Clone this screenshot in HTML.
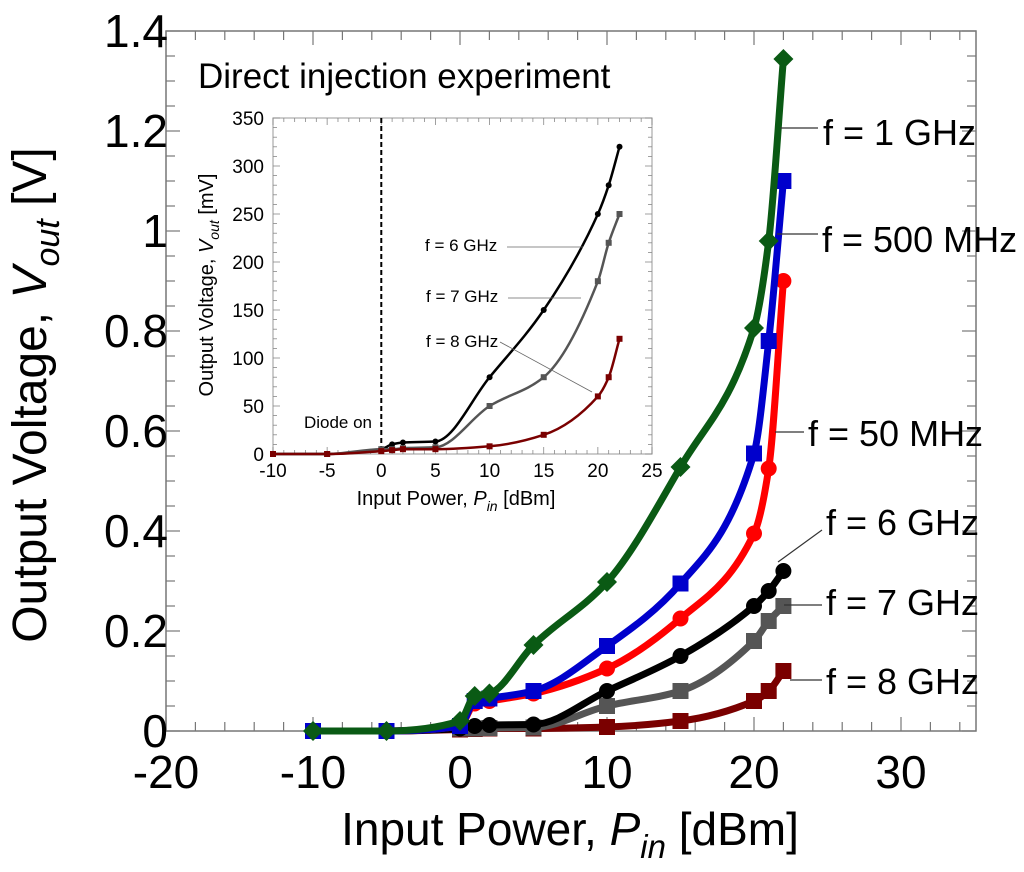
<!DOCTYPE html>
<html><head><meta charset="utf-8"><style>
body{margin:0;background:#fff;}
svg{display:block;font-family:"Liberation Sans",Arial,sans-serif;}
</style></head><body>
<svg id="chart" width="1024" height="872" viewBox="0 0 1024 872" xmlns="http://www.w3.org/2000/svg"></svg>
<script>
const xPts = [-10,-5,0,1,2,5,10,15,20,21,22];
const v1GHz = [0,0,0.02,0.07,0.075,0.172,0.298,0.528,0.806,0.98,1.344];
const v500MHz = [0,0,0.01,0.06,0.065,0.08,0.17,0.295,0.555,0.78,1.1];
const v50MHz = [0,0,0.01,0.055,0.06,0.075,0.125,0.225,0.395,0.525,0.9];
const mv6GHz = [0,0,5,10,12,13,80,150,250,280,320];
const mv7GHz = [0,0,5,5,6,7,50,80,180,220,250];
const mv8GHz = [0,0,3,4,5,5,8,20,60,80,120];
const xTicks = [-20,-10,0,10,20,30];
const yTicks = [0,0.2,0.4,0.6,0.8,1,1.2,1.4];
const insetXTicks = [-10,-5,0,5,10,15,20,25];
const insetYTicks = [0,50,100,150,200,250,300,350];

const svg=document.getElementById('chart');
const NS='http://www.w3.org/2000/svg';
function mk(tag,attrs,parent){const e=document.createElementNS(NS,tag);for(const k in attrs)e.setAttribute(k,attrs[k]);(parent||svg).appendChild(e);return e;}
const X=v=>460+(v)*14.7;
const Y=v=>731-v*500;
const IX=v=>273+(v+10)*(379/35);
const IY=v=>454-v*(336/350);

function smooth(pts){const n=pts.length;const dx=[],s=[];
 for(let i=0;i<n-1;i++){dx.push(pts[i+1][0]-pts[i][0]);s.push((pts[i+1][1]-pts[i][1])/dx[i]);}
 const m=[s[0]];for(let i=1;i<n-1;i++){if(s[i-1]*s[i]<=0)m.push(0);else{const w1=2*dx[i]+dx[i-1],w2=dx[i]+2*dx[i-1];m.push((w1+w2)/(w1/s[i-1]+w2/s[i]));}}
 m.push(s[n-2]);
 let d='M'+pts[0][0].toFixed(1)+','+pts[0][1].toFixed(1);
 for(let i=0;i<n-1;i++){const h=dx[i]/3;
  d+=' C'+(pts[i][0]+h).toFixed(1)+','+(pts[i][1]+m[i]*h).toFixed(1)+' '+(pts[i+1][0]-h).toFixed(1)+','+(pts[i+1][1]-m[i+1]*h).toFixed(1)+' '+pts[i+1][0].toFixed(1)+','+pts[i+1][1].toFixed(1);}
 return d;}

const frame=mk('rect',{x:166,y:31,width:810,height:700,fill:'none',stroke:'#777','stroke-width':1.5});

for(let v=-20;v<=35;v+=2){const x=X(v);const big=v%10===0;
 mk('line',{x1:x,y1:731,x2:x,y2:731-(big?14:9),stroke:'#777','stroke-width':1.2});
 mk('line',{x1:x,y1:31,x2:x,y2:31+(big?14:9),stroke:'#777','stroke-width':1.2});}
for(let v=0;v<=1.4001;v+=0.05){const y=Y(v);const big=Math.abs(v*5-Math.round(v*5))<1e-6;
 mk('line',{x1:166,y1:y,x2:166+(big?14:9),y2:y,stroke:'#777','stroke-width':1.2});
 mk('line',{x1:976,y1:y,x2:976-(big?14:9),y2:y,stroke:'#777','stroke-width':1.2});}
xTicks.forEach(v=>{const t=mk('text',{x:X(v),y:788,'font-size':46,'text-anchor':'middle'});t.textContent=String(v);
 });
yTicks.forEach(v=>{const t=mk('text',{x:168,y:Y(v)+16,'font-size':46,'text-anchor':'end'});t.textContent=String(v);
 });
let t=mk('text',{x:570,y:845,'font-size':46,'text-anchor':'middle'});
t.innerHTML='Input Power, <tspan font-style="italic">P</tspan><tspan font-style="italic" font-size="33" dy="13">in</tspan><tspan dy="-13"> [dBm]</tspan>';

t=mk('text',{x:0,y:0,'font-size':48,'text-anchor':'middle',transform:'translate(46,395) rotate(-90)'});
t.innerHTML='Output Voltage, <tspan font-style="italic">V</tspan><tspan font-style="italic" font-size="34" dy="13">out</tspan><tspan dy="-13"> [V]</tspan>';


const ib=mk('rect',{x:273,y:118,width:379,height:336,fill:'#fff',stroke:'#aaa','stroke-width':1.2});

for(let v=-10;v<=25;v+=1){const x=IX(v);const big=v%5===0;
 mk('line',{x1:x,y1:454,x2:x,y2:454-(big?7:4),stroke:'#888','stroke-width':0.8});
 mk('line',{x1:x,y1:118,x2:x,y2:118+(big?7:4),stroke:'#888','stroke-width':0.8});}
for(let v=0;v<=350;v+=10){const y=IY(v);const big=v%50===0;
 mk('line',{x1:273,y1:y,x2:273+(big?7:4),y2:y,stroke:'#888','stroke-width':0.8});
 mk('line',{x1:652,y1:y,x2:652-(big?7:4),y2:y,stroke:'#888','stroke-width':0.8});}
insetXTicks.forEach(v=>{const e=mk('text',{x:IX(v),y:477,'font-size':19,'text-anchor':'middle'});e.textContent=String(v);
 });
insetYTicks.forEach(v=>{const e=mk('text',{x:264,y:IY(v)+7,'font-size':19,'text-anchor':'end'});e.textContent=String(v);
 });
t=mk('text',{x:456,y:505,'font-size':20,'text-anchor':'middle'});
t.innerHTML='Input Power, <tspan font-style="italic">P</tspan><tspan font-style="italic" font-size="14" dy="6">in</tspan><tspan dy="-6"> [dBm]</tspan>';

t=mk('text',{x:0,y:0,'font-size':20,'text-anchor':'middle',transform:'translate(213,285) rotate(-90)'});
t.innerHTML='Output Voltage, <tspan font-style="italic">V</tspan><tspan font-style="italic" font-size="14" dy="6">out</tspan><tspan dy="-6"> [mV]</tspan>';

const dl=mk('line',{x1:IX(0),y1:118,x2:IX(0),y2:454,stroke:'#000','stroke-width':2,'stroke-dasharray':'5,3'});

t=mk('text',{x:372,y:428,'font-size':17,'text-anchor':'end'});t.textContent='Diode on';


const insetSeries=[[mv6GHz,'#000','circle','inset-series-6ghz'],[mv7GHz,'#555','square','inset-series-7ghz'],[mv8GHz,'#7a0000','square','inset-series-8ghz']];
insetSeries.forEach(([d,c,m,n])=>{const g=mk('g',{});
 mk('path',{d:smooth(xPts.map((x,i)=>[IX(x),IY(d[i])])),fill:'none',stroke:c,'stroke-width':2.5},g);
 xPts.forEach((x,i)=>{if(m==='circle')mk('circle',{cx:IX(x),cy:IY(d[i]),r:3,fill:c},g);
  else mk('rect',{x:IX(x)-3,y:IY(d[i])-3,width:6,height:6,fill:c},g);});});
[['f = 6 GHz',425,251,[507,247,583,247]],['f = 7 GHz',426,302,[508,298,581,298]],['f = 8 GHz',426,347,[500,342,592,392]]].forEach(([s,x,y,l])=>{
 const e=mk('text',{x:x,y:y,'font-size':17});e.textContent=s;
 mk('line',{x1:l[0],y1:l[1],x2:l[2],y2:l[3],stroke:'#666','stroke-width':0.8});});
t=mk('text',{x:198,y:88,'font-size':35});t.textContent='Direct injection experiment';


const mainSeries=[
 [mv8GHz.map(v=>v/1000),'#7a0000','square','series-8ghz'],
 [mv7GHz.map(v=>v/1000),'#555','square','series-7ghz'],
 [mv6GHz.map(v=>v/1000),'#000','circle','series-6ghz'],
 [v50MHz,'#f00','circle','series-50mhz'],
 [v500MHz,'#00c','square','series-500mhz'],
 [v1GHz,'#0a5a14','diamond','series-1ghz']];
mainSeries.forEach(([d,c,m,n])=>{const g=mk('g',{});
 mk('path',{d:smooth(xPts.map((x,i)=>[X(x),Y(d[i])])),fill:'none',stroke:c,'stroke-width':7,'stroke-linejoin':'round'},g);
 xPts.forEach((x,i)=>{const cx=X(x),cy=Y(d[i]);
  if(m==='circle')mk('circle',{cx:cx,cy:cy,r:8,fill:c},g);
  else if(m==='square')mk('rect',{x:cx-8,y:cy-8,width:16,height:16,fill:c},g);
  else mk('polygon',{points:`${cx},${cy-10} ${cx+10},${cy} ${cx},${cy+10} ${cx-10},${cy}`,fill:c},g);});});
[['f = 1 GHz',823,145,[780,128,818,128]],['f = 500 MHz',822,252,[777,234,818,234]],['f = 50 MHz',808,446,[775,432,804,432]],
 ['f = 6 GHz',826,535,[778,562,822,530]],['f = 7 GHz',826,615,[784,605,822,605]],['f = 8 GHz',826,694,[790,680,822,680]]].forEach(([s,x,y,l])=>{
 mk('line',{x1:l[0],y1:l[1],x2:l[2],y2:l[3],stroke:'#333','stroke-width':1.2});
 const e=mk('text',{x:x,y:y,'font-size':36});e.textContent=s;});
</script>
</body></html>
